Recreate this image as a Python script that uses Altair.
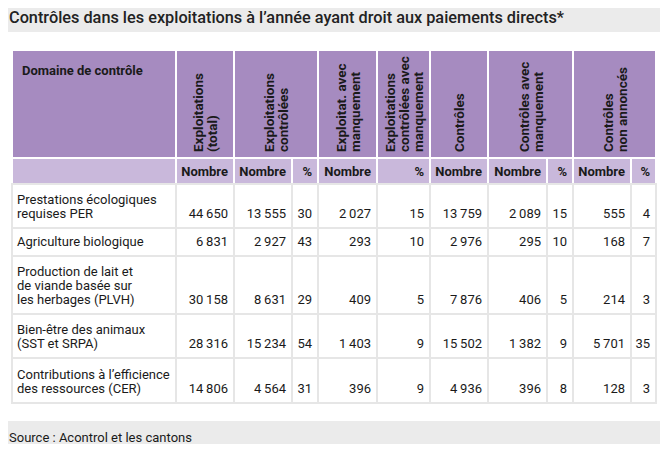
import altair as alt
import pandas as pd

# ---------------- data ----------------
TITLE = "Contrôles dans les exploitations à l’année ayant droit aux paiements directs*"
SOURCE = "Source : Acontrol et les cantons"
CORNER = "Domaine de contrôle"
GROUP_HEADERS = [
    "Exploitations\n(total)",
    "Exploitations\ncontrôlées",
    "Exploitat. avec\nmanquement",
    "Exploitations\ncontrôlées avec\nmanquement",
    "Contrôles",
    "Contrôles avec\nmanquement",
    "Contrôles\nnon annoncés",
]
SUB_HEADERS = ["", "Nombre", "Nombre", "%", "Nombre", "%", "Nombre", "Nombre", "%", "Nombre", "%"]
DOMAINES = [
    "Prestations écologiques\nrequises PER",
    "Agriculture biologique",
    "Production de lait et\nde viande basée sur\nles herbages (PLVH)",
    "Bien-être des animaux\n(SST et SRPA)",
    "Contributions à l’efficience\ndes ressources (CER)",
]
EXPL_TOTAL = [44650, 6831, 30158, 28316, 14806]
EXPL_CTRL = [13555, 2927, 8631, 15234, 4564]
EXPL_CTRL_PCT = [30, 43, 29, 54, 31]
EXPL_MANQ = [2027, 293, 409, 1403, 396]
EXPL_CTRL_MANQ_PCT = [15, 10, 5, 9, 9]
CONTROLES = [13759, 2976, 7876, 15502, 4936]
CTRL_MANQ = [2089, 295, 406, 1382, 396]
CTRL_MANQ_PCT = [15, 10, 5, 9, 8]
CTRL_NON_ANN = [555, 168, 214, 5701, 128]
CTRL_NON_ANN_PCT = [4, 7, 3, 35, 3]
VALUE_COLUMNS = [EXPL_TOTAL, EXPL_CTRL, EXPL_CTRL_PCT, EXPL_MANQ, EXPL_CTRL_MANQ_PCT,
                 CONTROLES, CTRL_MANQ, CTRL_MANQ_PCT, CTRL_NON_ANN, CTRL_NON_ANN_PCT]

# ---------------- layout (page pixels) ----------------
COL_EDGES = [12, 176, 234, 292, 318, 377, 430, 488, 547, 573, 631, 656]
GROUP_SPANS = [(1, 2), (2, 4), (4, 5), (5, 6), (6, 7), (7, 9), (9, 11)]
HEAD_TOP, HEAD_BOTTOM, SUB_BOTTOM = 50, 158, 184
ROW_EDGES = [184, 228, 256, 314, 358, 403]
PANEL = (4, 662, 32, 421)
LINE_H = 14
HEAD_LINE_H = 14

PURPLE = "#a68bc0"
LILAC = "#c9b8db"
PAGE_BG = "#ebebeb"
GRID = "#e6e6e6"
TEXT = "#1a1a1a"
FONT = "Roboto"


def fmt(v):
    return f"{v:,}".replace(",", "\u2009")


# rectangles
rects = [dict(x=PANEL[0], x2=PANEL[1], y=PANEL[2], y2=PANEL[3], c="#ffffff"),
         dict(x=COL_EDGES[0] - 1, x2=COL_EDGES[-1] + 1, y=SUB_BOTTOM - 1, y2=ROW_EDGES[-1] + 1, c=GRID)]
rects.append(dict(x=COL_EDGES[0] + 1, x2=COL_EDGES[1] - 1, y=HEAD_TOP + 1, y2=HEAD_BOTTOM - 1, c=PURPLE))
for a, b in GROUP_SPANS:
    rects.append(dict(x=COL_EDGES[a] + 1, x2=COL_EDGES[b] - 1, y=HEAD_TOP + 1, y2=HEAD_BOTTOM - 1, c=PURPLE))
for i in range(len(COL_EDGES) - 1):
    rects.append(dict(x=COL_EDGES[i] + 1, x2=COL_EDGES[i + 1] - 1, y=HEAD_BOTTOM + 1, y2=SUB_BOTTOM - 1, c=LILAC))
    for r in range(len(ROW_EDGES) - 1):
        rects.append(dict(x=COL_EDGES[i] + 1, x2=COL_EDGES[i + 1] - 1,
                          y=ROW_EDGES[r] + 1, y2=ROW_EDGES[r + 1] - 1, c="#ffffff"))
rect_df = pd.DataFrame(rects)

X = alt.Scale(domain=[8, 660], range=[0, 652], nice=False, zero=False)
Y = alt.Scale(domain=[8, 444], reverse=True, nice=False, zero=False)


def xq(f="x"):
    return alt.X(f"{f}:Q", scale=X, axis=None)


def yq(f="y"):
    return alt.Y(f"{f}:Q", scale=Y, axis=None)


rect_layer = alt.Chart(rect_df).mark_rect().encode(
    x=xq(), x2="x2:Q", y=yq(), y2="y2:Q", color=alt.Color("c:N", scale=None))

# title & source
title_layer = alt.Chart(pd.DataFrame([dict(x=9, y=18, t=TITLE)])).mark_text(
    align="left", baseline="middle", font=FONT, fontSize=16.3, fontWeight=500, color="#222222"
).encode(x=xq(), y=yq(), text="t:N")
source_layer = alt.Chart(pd.DataFrame([dict(x=9, y=438, t=SOURCE)])).mark_text(
    align="left", baseline="middle", font=FONT, fontSize=13, color=TEXT
).encode(x=xq(), y=yq(), text="t:N")

# header texts
corner_layer = alt.Chart(pd.DataFrame([dict(x=22, y=71, t=CORNER)])).mark_text(
    align="left", baseline="middle", font=FONT, fontSize=13, fontWeight="bold", color=TEXT
).encode(x=xq(), y=yq(), text="t:N")

gh = []
for (a, b), label in zip(GROUP_SPANS, GROUP_HEADERS):
    center = (COL_EDGES[a] + COL_EDGES[b]) / 2 + 1
    lines = label.split("\n")
    n = len(lines)
    for k, line in enumerate(lines):
        gh.append(dict(x=center + (k - (n - 1) / 2) * HEAD_LINE_H, y=152, t=line))
group_layer = alt.Chart(pd.DataFrame(gh)).mark_text(
    align="left", baseline="middle", angle=270,
    font=FONT, fontSize=13.5, fontWeight="bold", color=TEXT
).encode(x=xq(), y=yq(), text="t:N")

sh = [dict(x=COL_EDGES[i + 1] - 6, y=(HEAD_BOTTOM + SUB_BOTTOM) / 2 + 0.5, t=s)
      for i, s in enumerate(SUB_HEADERS) if s]
sub_layer = alt.Chart(pd.DataFrame(sh)).mark_text(
    align="right", baseline="middle", font=FONT, fontSize=13, fontWeight="bold", color=TEXT
).encode(x=xq(), y=yq(), text="t:N")

# body
labels, nums = [], []
for r, dom in enumerate(DOMAINES):
    bottom = ROW_EDGES[r + 1]
    lines = dom.split("\n")
    n = len(lines)
    for k, line in enumerate(lines):
        labels.append(dict(x=17, y=bottom - 14 - (n - 1 - k) * LINE_H, t=line))
    for c, col in enumerate(VALUE_COLUMNS):
        nums.append(dict(x=COL_EDGES[c + 2] - 6, y=bottom - 14, t=fmt(col[r])))

label_layer = alt.Chart(pd.DataFrame(labels)).mark_text(
    align="left", baseline="middle", font=FONT, fontSize=13, color=TEXT
).encode(x=xq(), y=yq(), text="t:N")
num_layer = alt.Chart(pd.DataFrame(nums)).mark_text(
    align="right", baseline="middle", font=FONT, fontSize=13, color=TEXT
).encode(x=xq(), y=yq(), text="t:N")

chart = alt.layer(
    rect_layer, title_layer, source_layer, corner_layer, group_layer, sub_layer, label_layer, num_layer
).properties(
    width=652, height=436, background=PAGE_BG, padding=0, autosize="none"
).configure_view(stroke=None)

chart.save("out.html", embed_options={"renderer": "svg", "actions": False})
